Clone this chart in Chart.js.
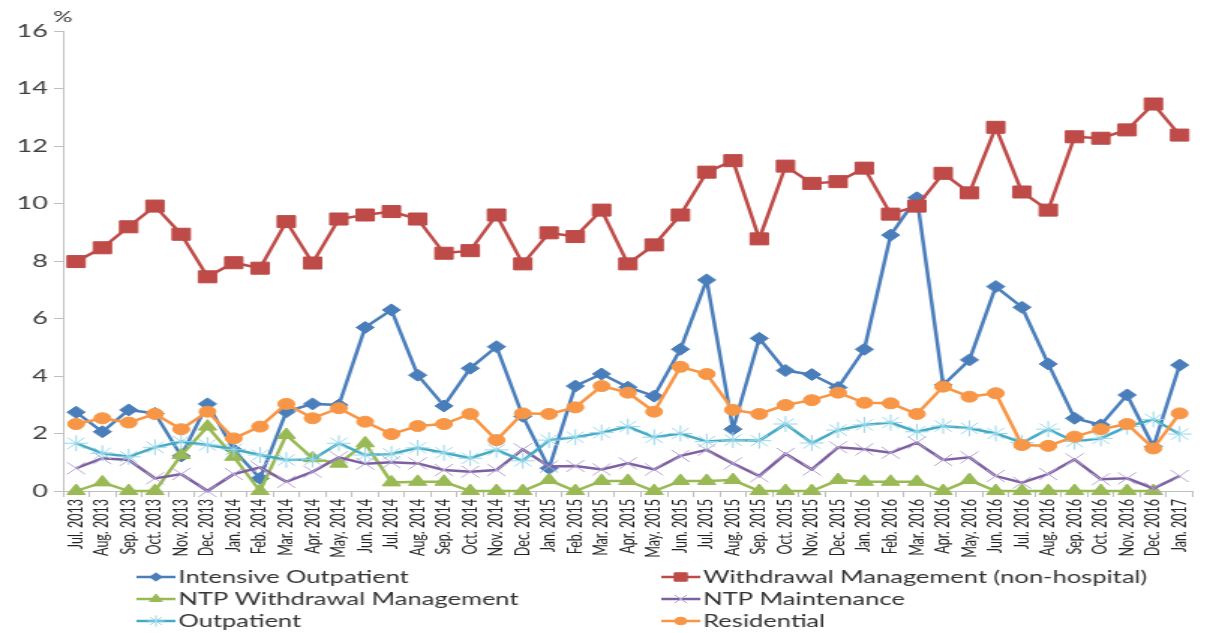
<!DOCTYPE html>
<html>
<head>
<meta charset="utf-8">
<script src="https://cdn.jsdelivr.net/npm/chart.js@4.4.1/dist/chart.umd.min.js"></script>
<style>
  html, body { margin: 0; padding: 0; background: #fff; overflow: hidden; }
  /* the chart is laid out narrow and stretched sideways */
  #wrap { position: absolute; left: 0; top: 0; width: 805px; height: 633px;
          transform: scale(1.4994, 1); transform-origin: 0 0; }
</style>
</head>
<body>
<div id="wrap"><canvas id="trendChart"></canvas></div>
<script>
// Monthly share (%) by level of care, Jul. 2013 - Jan. 2017
const months = [
  'Jul. 2013', 'Aug. 2013', 'Sep. 2013', 'Oct. 2013', 'Nov. 2013', 'Dec. 2013',
  'Jan. 2014', 'Feb. 2014', 'Mar. 2014', 'Apr. 2014', 'May. 2014', 'Jun. 2014',
  'Jul. 2014', 'Aug. 2014', 'Sep. 2014', 'Oct. 2014', 'Nov. 2014', 'Dec. 2014',
  'Jan. 2015', 'Feb. 2015', 'Mar. 2015', 'Apr. 2015', 'May. 2015', 'Jun. 2015',
  'Jul. 2015', 'Aug. 2015', 'Sep. 2015', 'Oct. 2015', 'Nov. 2015', 'Dec. 2015',
  'Jan. 2016', 'Feb. 2016', 'Mar. 2016', 'Apr. 2016', 'May. 2016', 'Jun. 2016',
  'Jul. 2016', 'Aug. 2016', 'Sep. 2016', 'Oct. 2016', 'Nov. 2016', 'Dec. 2016',
  'Jan. 2017'
];

const intensiveOutpatient = [2.74, 2.06, 2.82, 2.7, 1.22, 3.03, 1.43, 0.44, 2.76, 3.03,
  2.99, 5.69, 6.3, 4.03, 2.96, 4.27, 5.02, 2.6, 0.79, 3.65, 4.07, 3.61, 3.3, 4.93, 7.34,
  2.15, 5.31, 4.19, 4.05, 3.6, 4.93, 8.9, 10.2, 3.69, 4.56, 7.11, 6.39, 4.42, 2.53, 2.3,
  3.34, 1.54, 4.38];

const withdrawalMgmt = [7.98, 8.46, 9.19, 9.91, 8.93, 7.45, 7.94, 7.75, 9.37, 7.93,
  9.46, 9.6, 9.72, 9.46, 8.27, 8.36, 9.6, 7.9, 8.98, 8.85, 9.77, 7.9, 8.56, 9.6, 11.09,
  11.49, 8.77, 11.3, 10.7, 10.76, 11.23, 9.63, 9.91, 11.05, 10.37, 12.65, 10.4, 9.77,
  12.32, 12.27, 12.56, 13.46, 12.38];

const ntpWithdrawal = [0, 0.3, 0, 0, 1.25, 2.24, 1.19, 0, 1.95, 1.14, 0.95, 1.66, 0.3,
  0.32, 0.32, 0, 0, 0, 0.38, 0, 0.35, 0.35, 0, 0.35, 0.35, 0.38, 0, 0, 0, 0.38, 0.32,
  0.32, 0.32, 0, 0.38, 0, 0, 0, 0, 0, 0, 0, null];

const ntpMaintenance = [0.79, 1.14, 1.08, 0.44, 0.59, 0, 0.59, 0.82, 0.32, 0.67, 1.17,
  0.95, 1.0, 0.96, 0.73, 0.67, 0.73, 1.45, 0.85, 0.87, 0.75, 0.96, 0.75, 1.22, 1.43,
  0.96, 0.52, 1.29, 0.75, 1.52, 1.45, 1.33, 1.68, 1.08, 1.17, 0.52, 0.29, 0.59, 1.1,
  0.41, 0.44, 0.09, 0.52];

const outpatient = [1.66, 1.31, 1.19, 1.52, 1.72, 1.6, 1.45, 1.25, 1.08, 1.1, 1.66,
  1.25, 1.29, 1.5, 1.33, 1.14, 1.43, 1.05, 1.77, 1.87, 2.03, 2.24, 1.87, 2.0, 1.72,
  1.77, 1.75, 2.33, 1.67, 2.12, 2.3, 2.38, 2.06, 2.26, 2.18, 2.0, 1.68, 2.15, 1.72,
  1.83, 2.24, 2.49, 1.98];

const residential = [2.33, 2.53, 2.38, 2.68, 2.15, 2.76, 1.83, 2.24, 3.03, 2.53, 2.88,
  2.41, 1.98, 2.26, 2.33, 2.68, 1.77, 2.7, 2.68, 2.91, 3.65, 3.42, 2.76, 4.32, 4.07,
  2.82, 2.68, 2.99, 3.16, 3.42, 3.07, 3.05, 2.68, 3.63, 3.28, 3.4, 1.6, 1.57, 1.89,
  2.15, 2.33, 1.48, 2.7];

const yMin = 0, yMax = 16, yStep = 2;

const FONT = 'Lato, "Liberation Sans", sans-serif';

function series(label, data, color, style, radius, order, markerColor, markerWidth) {
  return {
    label: label,
    data: data,
    borderColor: color,
    backgroundColor: color,
    borderWidth: 2.5,
    pointStyle: style,
    pointRadius: radius,
    pointBackgroundColor: markerColor || color,
    pointBorderColor: markerColor || color,
    pointBorderWidth: markerWidth || 1,
    tension: 0,
    clip: false,
    order: order
  };
}

// draws the two-column legend and the "%" unit over the axis
const extrasPlugin = {
  id: 'extras',
  afterDraw(chart) {
    const ctx = chart.ctx;
    const cols = [91, 441];
    const rows = [577, 599, 621];
    chart.data.datasets.forEach((ds, i) => {
      const x = cols[i % 2];
      const y = rows[Math.floor(i / 2)];
      ctx.save();
      ctx.strokeStyle = ds.borderColor;
      ctx.lineWidth = ds.borderWidth;
      ctx.beginPath();
      ctx.moveTo(x, y);
      ctx.lineTo(x + 26, y);
      ctx.stroke();
      ctx.fillStyle = ds.pointBackgroundColor;
      ctx.strokeStyle = ds.pointBorderColor;
      ctx.lineWidth = ds.pointBorderWidth;
      Chart.helpers.drawPoint(ctx, {
        pointStyle: ds.pointStyle,
        radius: ds.pointRadius * 0.7,
        borderWidth: ds.pointBorderWidth,
        rotation: 0
      }, x + 13, y);
      ctx.fillStyle = '#333';
      ctx.font = '17px ' + FONT;
      ctx.textBaseline = 'middle';
      ctx.textAlign = 'left';
      ctx.fillText(ds.label, x + 28, y + 1);
      ctx.restore();
    });

    ctx.save();
    ctx.fillStyle = '#333';
    ctx.font = '16px ' + FONT;
    ctx.textAlign = 'center';
    ctx.textBaseline = 'middle';
    ctx.fillText('%', chart.chartArea.left, 17);
    ctx.restore();
  }
};

new Chart(document.getElementById('trendChart'), {
  type: 'line',
  data: {
    labels: months,
    datasets: [
      series('Intensive Outpatient', intensiveOutpatient, '#4a7ebb', 'rectRot', 6, 5),
      series('Withdrawal Management (non-hospital)', withdrawalMgmt, '#be4b48', 'rect', 8.5, 4),
      series('NTP Withdrawal Management', ntpWithdrawal, '#98b954', 'triangle', 7, 3),
      series('NTP Maintenance', ntpMaintenance, '#7d60a0', 'crossRot', 8.5, 2, '#b7a5d4', 1),
      series('Outpatient', outpatient, '#46aac5', 'star', 8, 1, '#97d8ea', 1),
      series('Residential', residential, '#f79646', 'circle', 5.5, 0)
    ]
  },
  options: {
    responsive: true,
    maintainAspectRatio: false,
    animation: false,
    layout: { padding: { top: 31, right: 0, bottom: 70, left: 0 } },
    plugins: {
      legend: { display: false },
      tooltip: { enabled: false }
    },
    scales: {
      x: {
        offset: true,
        grid: { offset: true, drawOnChartArea: false, tickLength: 6, color: '#bfbfbf' },
        border: { color: '#bfbfbf', width: 1 },
        ticks: {
          autoSkip: false,
          minRotation: 90,
          maxRotation: 90,
          padding: 2,
          color: '#222',
          font: { family: FONT, size: 12.5 }
        },
        afterFit: s => { s.height = 72; }
      },
      y: {
        min: yMin,
        max: yMax,
        ticks: {
          stepSize: yStep,
          padding: 4,
          color: '#404040',
          font: { family: FONT, size: 18 }
        },
        grid: { drawOnChartArea: false, tickLength: 6, color: '#bfbfbf' },
        border: { color: '#bfbfbf', width: 1 },
        afterFit: s => { s.width = 42; }
      }
    }
  },
  plugins: [extrasPlugin]
});
</script>
</body>
</html>
